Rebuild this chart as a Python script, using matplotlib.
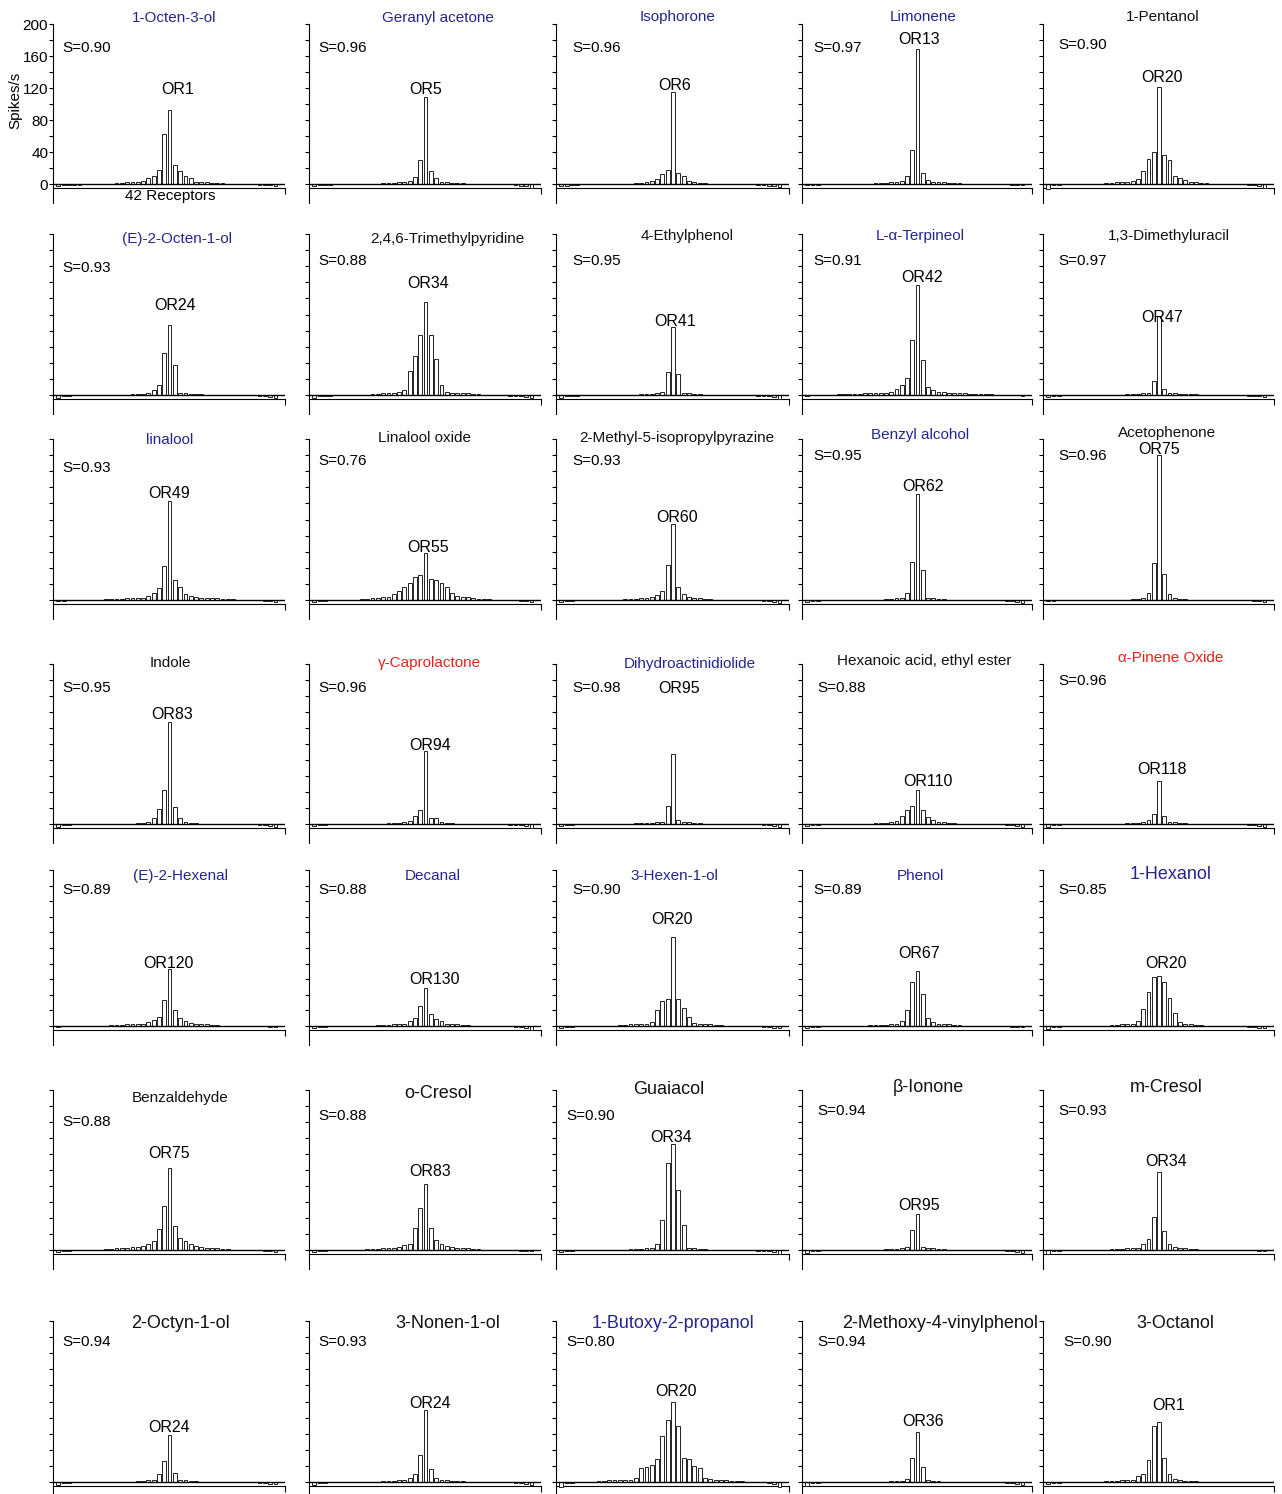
import matplotlib
matplotlib.use("Agg")
import matplotlib.pyplot as plt
import numpy as np

plt.rcParams["font.family"] = ["Liberation Sans", "DejaVu Sans"]

# ---- data -----------------------------------------------------------------
odorants = [
    "1-Octen-3-ol", "Geranyl acetone", "Isophorone", "Limonene", "1-Pentanol",
    "(E)-2-Octen-1-ol", "2,4,6-Trimethylpyridine", "4-Ethylphenol", "L-α-Terpineol", "1,3-Dimethyluracil",
    "linalool", "Linalool oxide", "2-Methyl-5-isopropylpyrazine", "Benzyl alcohol", "Acetophenone",
    "Indole", "γ-Caprolactone", "Dihydroactinidiolide", "Hexanoic acid, ethyl ester", "α-Pinene Oxide",
    "(E)-2-Hexenal", "Decanal", "3-Hexen-1-ol", "Phenol", "1-Hexanol",
    "Benzaldehyde", "o-Cresol", "Guaiacol", "β-Ionone", "m-Cresol",
    "2-Octyn-1-ol", "3-Nonen-1-ol", "1-Butoxy-2-propanol", "2-Methoxy-4-vinylphenol", "3-Octanol",
]

sparseness = [
    0.90, 0.96, 0.96, 0.97, 0.90,
    0.93, 0.88, 0.95, 0.91, 0.97,
    0.93, 0.76, 0.93, 0.95, 0.96,
    0.95, 0.96, 0.98, 0.88, 0.96,
    0.89, 0.88, 0.90, 0.89, 0.85,
    0.88, 0.88, 0.90, 0.94, 0.93,
    0.94, 0.93, 0.80, 0.94, 0.90,
]

best_receptor = [
    "OR1", "OR5", "OR6", "OR13", "OR20",
    "OR24", "OR34", "OR41", "OR42", "OR47",
    "OR49", "OR55", "OR60", "OR62", "OR75",
    "OR83", "OR94", "OR95", "OR110", "OR118",
    "OR120", "OR130", "OR20", "OR67", "OR20",
    "OR75", "OR83", "OR34", "OR95", "OR34",
    "OR24", "OR24", "OR20", "OR36", "OR1",
]

# title colour class: b = blue, r = red, k = black
title_class = [
    "b", "b", "b", "b", "k",
    "b", "k", "k", "b", "k",
    "b", "k", "k", "b", "k",
    "k", "r", "b", "k", "r",
    "b", "b", "b", "b", "b",
    "k", "k", "k", "k", "k",
    "k", "k", "b", "k", "k",
]

# responses of the 42 receptors (spikes/s), sorted as tuning curves
responses = [
    [-3,-1,-1,-1,-1,0,0,0,0,0,0, 1,1,2,2,3,4,7,10,18,62, 93, 24,16,10,8,3,2,2,1,1,1, 0,0,0,0,0,0,-1,-1,-1,-3],
    [-3,-1,-1,-1,0,0,0,0,0,0,0, 0,0,1,1,1,2,2,4,9,30, 109, 16,8,3,2,1,1,1,0,0,0, 0,0,0,0,0,0,-1,-2,-3,-5],
    [-3,-2,-1,-1,0,0,0,0,0,0,0, 0,0,0,1,1,2,4,6,12,18, 115, 14,10,4,3,1,1,0,0,0,0, 0,0,0,0,0,-1,-1,-2,-2,-4],
    [-1,-1,-1,0,0,0,0,0,0,0,0, 0,0,1,1,1,2,3,4,10,42, 169, 14,5,3,2,2,1,1,1,0,0, 0,0,0,0,0,0,0,-1,-1,-1],
    [-6,-1,-1,0,0,0,0,0,0,0,0, 1,1,2,2,3,4,6,16,31,40, 121, 36,30,10,7,5,3,2,1,1,0, 0,0,0,0,0,0,-1,-1,-2,-5],

    [-4,-1,-1,0,0,0,0,0,0,0,0, 0,0,0,1,1,1,2,6,13,52, 87, 37,3,2,1,1,1,0,0,0,0, 0,0,0,0,0,0,-1,-1,-2,-4],
    [-4,-1,-1,-1,0,0,0,0,0,0,0, 1,1,2,2,3,4,6,30,49,75, 115, 75,45,12,4,3,3,2,2,1,1, 0,0,0,0,0,-1,-1,-1,-2,-4],
    [-4,-1,-1,-1,0,0,0,0,0,0,0, 0,0,0,0,1,1,1,2,4,28, 84, 26,3,2,1,1,0,0,0,0,0, 0,0,0,0,0,-1,-1,-1,-2,-5],
    [-1,0,0,0,0,0,1,1,1,1,1, 2,2,2,3,3,4,7,12,21,68, 137, 43,10,6,4,4,3,3,2,2,1, 1,1,1,1,0,0,0,0,0,-1],
    [-3,-1,-1,0,0,0,0,0,0,0,0, 0,0,0,0,1,1,1,2,2,18, 98, 7,2,2,1,1,1,1,0,0,0, 0,0,0,0,0,0,-1,-1,-1,-3],

    [-1,-1,0,0,0,0,0,0,0,1,1, 1,1,2,2,3,3,5,9,15,42, 123, 25,16,8,5,4,3,3,2,2,1, 1,1,0,0,0,0,0,-1,-1,-3],
    [-3,-1,-1,0,0,0,0,0,0,1,1, 2,3,4,4,8,11,16,21,28,31, 58, 26,25,21,16,9,5,4,4,3,1, 1,1,0,0,0,0,0,-1,-1,-3],
    [-3,-1,-1,0,0,0,0,0,0,0,0, 0,1,1,1,2,2,4,6,11,44, 94, 16,8,4,3,2,1,1,0,0,0, 0,0,0,0,0,0,-1,-1,-2,-4],
    [-3,-1,-1,0,0,0,0,0,0,0,0, 0,0,0,0,1,1,2,3,9,47, 132, 37,3,2,1,1,0,0,0,0,0, 0,0,0,0,0,0,-1,-1,-2,-4],
    [-1,-1,0,0,0,0,0,0,0,0,0, 0,0,0,0,0,1,1,3,9,46, 180, 32,7,2,1,1,0,0,0,0,0, 0,0,0,0,0,0,0,-1,-1,-2],

    [-4,-1,-1,0,0,0,0,0,0,0,0, 0,0,0,0,1,1,2,7,19,42, 127, 21,8,3,1,1,0,0,0,0,0, 0,0,0,0,0,0,-1,-1,-2,-4],
    [-3,-1,-1,0,0,0,0,0,0,0,0, 0,0,0,1,1,1,2,4,10,18, 91, 8,8,3,1,1,0,0,0,0,0, 0,0,0,0,0,-1,-1,-1,-2,-5],
    [-3,-1,-1,0,0,0,0,0,0,0,0, 0,0,0,1,1,1,1,2,3,22, 87, 5,2,2,1,1,0,0,0,0,0, 0,0,0,0,0,0,-1,-1,-2,-4],
    [-3,-1,-1,0,0,0,0,0,0,0,0, 0,0,1,1,1,2,4,10,17,22, 43, 18,9,5,3,2,1,1,0,0,0, 0,0,0,0,0,0,-1,-1,-2,-4],
    [-4,-1,-1,0,0,0,0,0,0,0,0, 0,0,0,0,1,1,1,2,5,12, 54, 10,3,2,1,1,0,0,0,0,0, 0,0,0,0,0,0,-1,-1,-2,-4],

    [-1,0,0,0,0,0,0,0,0,0,1, 1,1,2,2,3,3,5,8,11,33, 73, 21,10,6,4,3,2,2,1,1,0, 0,0,0,0,0,0,0,0,-1,-1],
    [-3,-1,-1,0,0,0,0,0,0,0,0, 0,1,1,1,2,2,3,6,10,26, 49, 16,9,6,3,2,2,1,1,0,0, 0,0,0,0,0,0,-1,-1,-2,-5],
    [-3,-1,-1,0,0,0,0,0,0,0,0, 1,1,2,2,3,3,5,21,32,35, 114, 34,23,11,4,3,3,2,1,1,0, 0,0,0,0,0,0,-1,-1,-2,-3],
    [-3,-1,-1,0,0,0,0,0,0,0,0, 0,1,1,1,1,2,2,6,21,57, 70, 41,10,5,3,2,2,1,1,0,0, 0,0,0,0,0,0,0,-1,-1,-1],
    [-4,-1,-1,0,0,0,0,0,0,0,0, 0,1,1,2,2,3,7,22,43,63, 64, 56,36,17,5,3,2,1,1,0,0, 0,0,0,0,0,0,-1,-1,-2,-3],

    [-3,-1,-1,0,0,0,0,0,0,1,1, 2,2,3,4,4,5,8,11,26,55, 102, 30,15,11,7,5,4,3,2,2,1, 1,0,0,0,0,0,0,-1,-1,-2],
    [-2,-1,-1,0,0,0,0,0,0,0,1, 1,1,2,2,3,4,6,7,27,52, 83, 27,13,7,5,4,3,2,2,1,1, 0,0,0,0,0,0,0,-1,-1,-1],
    [-3,-1,-1,0,0,0,0,0,0,0,0, 0,0,1,1,1,2,2,7,38,109, 132, 75,31,3,2,1,1,0,0,0,0, 0,0,0,0,0,-1,-1,-1,-2,-5],
    [-4,-1,-1,0,0,0,0,0,0,0,0, 0,0,0,0,1,1,1,2,4,25, 45, 4,3,2,1,1,0,0,0,0,0, 0,0,0,0,0,0,-1,-1,-2,-4],
    [-5,-1,-1,0,0,0,0,0,0,0,0, 0,1,1,1,2,2,3,7,14,41, 97, 24,8,4,3,2,1,1,0,0,0, 0,0,0,0,0,0,0,0,-1,-1],

    [-4,-1,-1,0,0,0,0,0,0,0,0, 0,0,0,0,1,1,2,3,10,26, 58, 11,3,2,1,1,0,0,0,0,0, 0,0,0,0,0,0,-1,-1,-2,-3],
    [-4,-1,-1,0,0,0,0,0,0,0,0, 0,0,1,1,1,2,3,5,10,34, 89, 16,5,3,2,1,1,1,0,0,0, 0,0,0,0,0,0,-1,-1,-2,-4],
    [-6,-1,-1,0,0,0,0,1,1,2,2, 3,3,3,5,18,19,21,28,57,77, 99, 70,30,29,20,18,5,4,3,2,2, 1,1,1,0,0,0,0,-1,-2,-6],
    [-5,-1,-1,0,0,0,0,0,0,0,0, 0,0,0,0,0,1,1,1,4,30, 62, 19,2,1,1,0,0,0,0,0,0, 0,0,0,0,0,0,-1,-1,-2,-4],
    [-3,-1,-1,0,0,0,0,0,0,0,0, 1,1,1,2,2,3,7,10,27,69, 74, 30,10,4,2,1,1,1,0,0,0, 0,0,0,0,0,0,0,0,0,0],
]

# ---- layout (pixels of the 1282 x 1494 image) ------------------------------
W, H = 1282, 1494
col_left = [53, 309, 556, 802, 1043]
col_right = [285, 541, 789, 1032, 1274]
row_zero = [184, 395, 600, 824, 1026, 1250, 1482]
row_top = [24, 234, 439, 664, 870, 1090, 1321]

title_xy = [(174, 18), (438, 18), (678, 17), (923, 17), (1163, 17),
            (177, 239), (447, 239), (687, 236), (920, 236), (1169, 236),
            (170, 440), (424, 438), (677, 438), (920, 435), (1167, 433),
            (170, 663), (430, 663), (690, 664), (924, 661), (1171, 658),
            (180, 876), (433, 876), (674, 876), (920, 876), (1171, 875),
            (180, 1098), (438, 1093), (669, 1090), (928, 1088), (1166, 1088),
            (181, 1324), (448, 1324), (673, 1324), (940, 1324), (1175, 1324)]
s_xy = [(62, 48), (318, 48), (572, 48), (813, 48), (1058, 45),
        (62, 268), (318, 261), (572, 261), (813, 261), (1058, 261),
        (62, 468), (318, 461), (572, 461), (813, 456), (1058, 456),
        (62, 688), (318, 688), (572, 688), (817, 688), (1058, 681),
        (62, 890), (318, 890), (572, 890), (813, 890), (1058, 890),
        (62, 1122), (318, 1116), (566, 1116), (817, 1111), (1058, 1111),
        (62, 1342), (318, 1342), (566, 1342), (817, 1342), (1063, 1342)]
or_xy = [(178, 90), (426, 89), (675, 86), (919, 39), (1162, 78),
         (175, 306), (428, 284), (675, 321), (922, 277), (1162, 317),
         (169, 494), (428, 547), (677, 517), (923, 486), (1159, 449),
         (172, 715), (430, 745), (679, 689), (928, 782), (1162, 770),
         (168, 964), (435, 979), (672, 919), (919, 953), (1166, 964),
         (169, 1153), (430, 1172), (671, 1138), (919, 1205), (1166, 1162),
         (169, 1427), (430, 1404), (676, 1391), (923, 1421), (1169, 1406)]
large_titles = {24, 26, 27, 28, 29, 30, 31, 32, 33, 34}
colors = {"b": "#25258f", "r": "#e3241d", "k": "#111111"}

YBOT = -24
XMIN, XMAX = -1.0, 42.8


def fx(x):
    return x / W


def fy(y):
    return 1 - y / H


fig = plt.figure(figsize=(W / 100, H / 100), dpi=100)

receptors = np.arange(42)

for k, vals in enumerate(responses):
    r, c = divmod(k, 5)
    left, right = col_left[c], col_right[c]
    zero, top = row_zero[r], row_top[r]
    scale = (zero - top) / 200.0
    bottom = zero - YBOT * scale
    ax = fig.add_axes([fx(left), fy(bottom), (right - left) / W, (bottom - top) / H])

    ax.bar(receptors, vals, width=0.72, facecolor="white", edgecolor="#222222",
           linewidth=0.7, zorder=3)
    ax.axhline(0, color="black", lw=1.0, zorder=4)

    ax.set_xlim(XMIN, XMAX)
    ax.set_ylim(YBOT, 200)
    for side in ("top", "right"):
        ax.spines[side].set_visible(False)
    ax.spines["bottom"].set_position(("data", -5))
    ax.spines["left"].set_linewidth(0.8)
    ax.spines["bottom"].set_linewidth(0.8)

    ax.set_xticks([XMAX - 0.05])
    ax.set_xticklabels([])
    ax.tick_params(axis="x", direction="out", length=4, width=0.8)

    ax.set_yticks(np.arange(0, 201, 40))
    ax.set_yticks(np.arange(20, 200, 40), minor=True)
    ax.tick_params(axis="y", which="both", direction="out", length=3, width=0.8)
    if k == 0:
        ax.tick_params(axis="y", labelsize=11, pad=0.5)
    else:
        ax.set_yticklabels([])

    size = 13 if k in large_titles else 11
    tx, ty = title_xy[k]
    fig.text(fx(tx), fy(ty), odorants[k], ha="center", va="center",
             fontsize=size, color=colors[title_class[k]])
    sx, sy = s_xy[k]
    fig.text(fx(sx), fy(sy), f"S={sparseness[k]:.2f}", ha="left", va="center",
             fontsize=11)
    ox, oy = or_xy[k]
    fig.text(fx(ox), fy(oy), best_receptor[k], ha="center", va="center",
             fontsize=11.5)

fig.text(fx(15), fy(100), "Spikes/s", rotation=90, ha="center", va="center",
         fontsize=11)
fig.text(fx(170), fy(196), "42 Receptors", ha="center", va="center",
         fontsize=11)

fig.savefig("out.png", dpi=100)
